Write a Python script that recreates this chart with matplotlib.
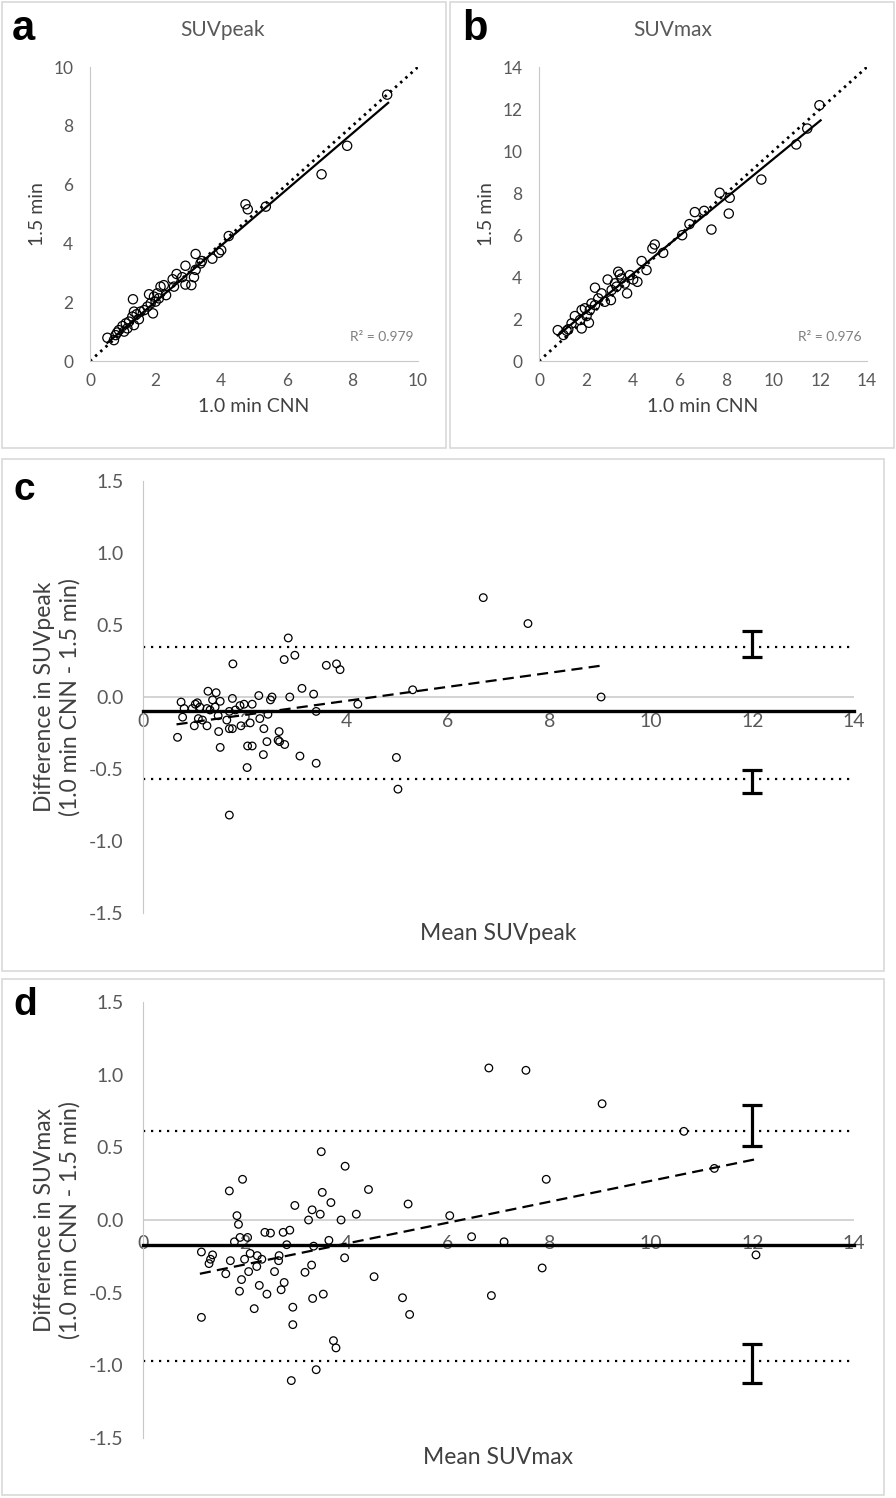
import matplotlib
matplotlib.use("Agg")
import matplotlib.pyplot as plt
from matplotlib.patches import Rectangle

plt.rcParams['font.family'] = ['Lato', 'DejaVu Sans']

# panel a: SUVpeak, 1.0 min CNN vs 1.5 min
a_x = [9.06, 7.84, 7.06, 4.74, 4.81, 5.36, 4.23, 3.22, 3.41, 3.37, 3.73, 3.93, 4.00,
       2.91, 3.22, 3.17, 3.09, 2.91, 2.81, 2.64, 2.52, 2.56, 2.15, 2.25, 2.32, 2.05,
       1.80, 1.95, 2.10, 1.31, 1.92, 1.75, 1.65, 1.54, 1.42, 1.34, 1.29, 1.49, 1.19,
       1.09, 0.99, 0.88, 0.83, 0.78, 0.53, 0.73, 1.34, 1.14, 1.04, 1.85, 2.00]
a_y = [9.06, 7.32, 6.35, 5.33, 5.16, 5.25, 4.25, 3.64, 3.40, 3.32, 3.48, 3.68, 3.77,
       3.24, 3.10, 2.85, 2.58, 2.60, 2.85, 2.96, 2.78, 2.53, 2.53, 2.58, 2.24, 2.30,
       2.27, 2.19, 2.13, 2.10, 1.62, 1.85, 1.73, 1.68, 1.59, 1.68, 1.51, 1.42, 1.34,
       1.28, 1.19, 1.05, 0.97, 0.88, 0.79, 0.71, 1.22, 1.11, 1.00, 1.96, 2.02]
a_fit_x = [0.53, 9.09]
a_fit_y = [0.62, 8.78]

# panel b: SUVmax
b_x = [11.97, 11.45, 10.98, 9.49, 7.71, 8.14, 8.10, 7.36, 7.05, 6.65, 6.42, 6.11,
       4.94, 4.84, 5.30, 4.38, 4.59, 4.20, 3.88, 4.02, 3.38, 3.45, 2.93, 2.39, 3.76,
       3.66, 3.31, 3.10, 3.07, 2.67, 2.81, 2.53, 2.39, 2.17, 1.96, 1.82, 2.13, 1.82,
       1.75, 1.53, 1.39, 1.25, 1.04, 0.80, 1.18, 2.03, 2.24, 3.24, 3.52]
b_y = [12.18, 11.07, 10.31, 8.64, 8.01, 7.77, 7.02, 6.26, 7.15, 7.09, 6.52, 5.99,
       5.55, 5.36, 5.15, 4.76, 4.33, 3.77, 4.09, 3.88, 4.25, 4.12, 3.88, 3.49, 3.22,
       3.69, 3.54, 3.38, 2.90, 3.22, 2.82, 2.98, 2.66, 2.43, 2.51, 2.43, 1.82, 1.55,
       1.95, 2.14, 1.79, 1.51, 1.24, 1.47, 1.44, 2.14, 2.74, 3.70, 3.93]
b_fit_x = [0.80, 12.02]
b_fit_y = [1.22, 11.46]

# panel c: Bland-Altman SUVpeak
c_mean = [6.70, 7.58, 2.86, 2.99, 2.78, 1.77, 3.61, 3.81, 3.88, 3.13, 3.36, 2.89, 2.54,
          2.51, 2.28, 5.31, 9.02, 4.23, 3.41, 1.28, 1.44, 0.75, 1.03, 1.07, 1.37, 1.52,
          1.76, 1.91, 1.99, 2.15, 0.81, 0.97, 1.12, 1.26, 1.32, 1.42, 0.78, 1.09, 1.17,
          1.26, 1.01, 1.48, 1.65, 1.70, 1.82, 1.93, 1.70, 1.76, 1.49, 2.11, 2.30, 2.46,
          2.38, 2.68, 2.66, 2.69, 2.79, 2.44, 2.06, 2.15, 1.52, 0.68, 2.37, 3.09, 3.41,
          2.05, 4.99, 5.02, 1.70]
c_diff = [0.69, 0.51, 0.41, 0.29, 0.26, 0.23, 0.22, 0.23, 0.19, 0.06, 0.02, 0.00, 0.00,
          -0.02, 0.01, 0.05, 0.00, -0.05, -0.10, 0.04, 0.03, -0.035, -0.05, -0.04, -0.02,
          -0.03, -0.01, -0.06, -0.05, -0.05, -0.08, -0.08, -0.07, -0.08, -0.09, -0.07,
          -0.14, -0.15, -0.16, -0.20, -0.20, -0.13, -0.16, -0.10, -0.09, -0.20, -0.22,
          -0.22, -0.24, -0.18, -0.15, -0.12, -0.22, -0.24, -0.30, -0.31, -0.33, -0.31,
          -0.34, -0.34, -0.35, -0.28, -0.40, -0.41, -0.46, -0.49, -0.42, -0.64, -0.82]
c_bias = -0.10
c_loa = [-0.57, 0.35]
c_ci_upper = [0.28, 0.46]
c_ci_lower = [-0.67, -0.51]
c_trend_x = [0.66, 9.07]
c_trend_y = [-0.19, 0.22]

# panel d: Bland-Altman SUVmax
d_mean = [6.81, 7.54, 9.04, 10.65, 11.25, 7.94, 3.51, 3.98, 1.96, 1.70, 4.44, 3.53, 3.70,
          5.22, 2.99, 3.33, 3.49, 4.20, 6.04, 1.85, 1.88, 3.26, 3.90, 2.40, 2.51, 2.76,
          2.89, 2.06, 1.91, 1.80, 2.83, 3.36, 3.66, 6.47, 7.11, 12.07, 1.15, 1.37, 1.33,
          1.30, 1.72, 2.00, 2.11, 2.25, 2.34, 2.68, 2.67, 2.24, 2.08, 2.59, 1.63, 1.94,
          3.32, 3.19, 3.97, 4.55, 2.78, 2.29, 1.90, 2.72, 2.44, 3.55, 3.34, 5.11, 6.86,
          7.86, 5.25, 2.19, 2.95, 1.15, 2.95, 3.75, 3.80, 3.41, 2.92]
d_diff = [1.046, 1.03, 0.80, 0.61, 0.355, 0.28, 0.47, 0.37, 0.28, 0.20, 0.21, 0.19, 0.12,
          0.11, 0.10, 0.07, 0.04, 0.04, 0.03, 0.03, -0.03, 0.00, 0.00, -0.085, -0.09,
          -0.085, -0.07, -0.12, -0.12, -0.15, -0.17, -0.18, -0.14, -0.115, -0.15, -0.24,
          -0.22, -0.24, -0.27, -0.30, -0.28, -0.27, -0.23, -0.245, -0.27, -0.245, -0.28,
          -0.32, -0.355, -0.355, -0.37, -0.41, -0.31, -0.36, -0.26, -0.39, -0.43, -0.45,
          -0.49, -0.48, -0.51, -0.51, -0.54, -0.535, -0.52, -0.33, -0.65, -0.61, -0.60,
          -0.67, -0.72, -0.83, -0.88, -1.03, -1.105]
d_bias = -0.17
d_loa = [-0.97, 0.61]
d_ci_upper = [0.51, 0.79]
d_ci_lower = [-1.12, -0.85]
d_trend_x = [1.12, 12.09]
d_trend_y = [-0.37, 0.42]

W, H = 896, 1498
fig = plt.figure(figsize=(W / 100, H / 100), dpi=100)

TICK = '#595959'
LABEL = '#404040'
SPINE = '#c8c8c8'


def px_axes(l, t, r, b):
    return fig.add_axes([l / W, 1 - b / H, (r - l) / W, (b - t) / H])


def box(l, t, r, b):
    fig.patches.append(Rectangle((l / W, 1 - b / H), (r - l) / W, (b - t) / H,
                                 transform=fig.transFigure, fill=False,
                                 edgecolor='#d9d9d9', lw=1.2))


def style(ax, size):
    for s in ['top', 'right']:
        ax.spines[s].set_visible(False)
    ax.spines['left'].set_color(SPINE)
    ax.spines['bottom'].set_color(SPINE)
    ax.tick_params(length=0, colors=TICK, labelsize=size, pad=12)


box(2, 2, 446, 448)
box(450, 2, 894, 448)
box(2, 459, 884, 971)
box(2, 979, 884, 1495)

# scatter panels
scatter_panels = [
    (90, 418, 'a', 'SUVpeak', a_x, a_y, a_fit_x, a_fit_y, 10, 'R\u00b2 = 0.979', 0, 223),
    (539, 867, 'b', 'SUVmax', b_x, b_y, b_fit_x, b_fit_y, 14, 'R\u00b2 = 0.976', 450, 673),
]
for l, r, letter, title, xs, ys, fx, fy, lim, r2, x0, xc in scatter_panels:
    ax = px_axes(l, 67, r, 361)
    style(ax, 12.5)
    ax.plot([0, lim], [0, lim], color='black', lw=2.0, linestyle=(0, (0.9, 1.6)))
    ax.plot(fx, fy, color='black', lw=1.6)
    ax.scatter(xs, ys, s=44, facecolors='none', edgecolors='black', linewidths=0.9,
               clip_on=False, zorder=3)
    ax.set_xlim(0, lim)
    ax.set_ylim(0, lim)
    ax.set_xticks(range(0, lim + 1, 2))
    ax.set_yticks(range(0, lim + 1, 2))
    ax.tick_params(axis='x', pad=9)
    ax.set_xlabel('1.0 min CNN', color=LABEL, fontsize=14, labelpad=6)
    ax.set_ylabel('1.5 min', color=LABEL, fontsize=14, labelpad=5)
    ax.text(0.985, 0.08, r2, transform=ax.transAxes, ha='right', va='center',
            color='#7f7f7f', fontsize=10)
    fig.text(xc / W, 1 - 30 / H, title, ha='center', va='center', color=TICK, fontsize=15)
    fig.text((x0 + 12) / W, 1 - 29 / H, letter, ha='left', va='center',
             fontsize=30, fontweight='bold', family='Liberation Sans')

# Bland-Altman panels
ba_panels = [
    (481, 913, 'c', 'SUVpeak', c_mean, c_diff, c_bias, c_loa, c_ci_upper, c_ci_lower,
     c_trend_x, c_trend_y, 1.5, 934, 490),
    (1002, 1438, 'd', 'SUVmax', d_mean, d_diff, d_bias, d_loa, d_ci_upper, d_ci_lower,
     d_trend_x, d_trend_y, -7, 1458, 1005),
]
for t, b, letter, name, xs, ys, bias, loa, ciu, cil, tx, ty, xpad, xl_y, let_y in ba_panels:
    ax = px_axes(143, t, 854, b)
    style(ax, 14)
    ax.set_xlim(0, 14)
    ax.set_ylim(-1.5, 1.5)
    ax.spines['bottom'].set_position(('data', bias))
    ax.spines['bottom'].set_color('black')
    ax.spines['bottom'].set_linewidth(2.4)
    ax.axhline(0, color='#d0d0d0', lw=1.3, zorder=0)
    for v in loa:
        ax.axhline(v, color='black', lw=1.6, linestyle=(0, (1, 2.6)))
    ax.plot(tx, ty, color='black', lw=1.6, linestyle=(0, (5, 2.8)))
    for lo, hi in [ciu, cil]:
        ax.errorbar([12], [(lo + hi) / 2], yerr=[(hi - lo) / 2], fmt='none', ecolor='black',
                    elinewidth=2.3, capsize=7.5, capthick=2.3)
    ax.scatter(xs, ys, s=30, facecolors='none', edgecolors='black', linewidths=0.9,
               zorder=3)
    ax.set_xticks(range(0, 15, 2))
    ax.set_yticks([-1.5, -1.0, -0.5, 0.0, 0.5, 1.0, 1.5])
    ax.set_yticklabels(['-1.5', '-1.0', '-0.5', '0.0', '0.5', '1.0', '1.5'])
    ax.tick_params(axis='y', pad=14)
    ax.tick_params(axis='x', pad=xpad)
    ax.set_ylabel('Difference in %s\n(1.0 min CNN - 1.5 min)' % name, color=LABEL,
                  fontsize=16.5, labelpad=6, linespacing=1.25)
    fig.text(498 / W, 1 - xl_y / H, 'Mean %s' % name, ha='center', va='center',
             color=LABEL, fontsize=16.5)
    fig.text(13 / W, 1 - let_y / H, letter, ha='left', va='center',
             fontsize=28, fontweight='bold', family='Liberation Sans')

fig.savefig('out.png', dpi=100)
